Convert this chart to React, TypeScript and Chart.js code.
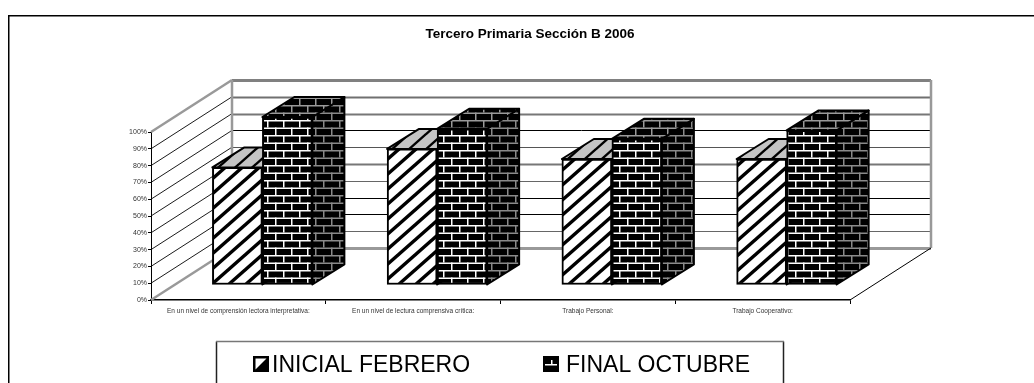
import React, { useEffect, useRef } from "react";
import { Chart, registerables } from "chart.js";

Chart.register(...registerables);

const categories = [
  "En un nivel de comprensión lectora interpretativa:",
  "En un nivel de lectura comprensiva crítica:",
  "Trabajo Personal:",
  "Trabajo Cooperativo:",
];
const inicialFebrero = [70, 81, 75, 75];
const finalOctubre = [100, 93, 87, 92];
const titleText = "Tercero Primaria Sección B 2006";
const FONT = '"Liberation Sans", Arial, sans-serif';

const WALL = { dx: 81, dy: -52 };
const BAR_SHIFT = { dx: 24, dy: -15 };
const BAR_DEPTH = { dx: 32, dy: -20 };

const wallLineStyle: Record<number, [string, number]> = {
  100: ["#808080", 3],
  90: ["#707070", 2],
  80: ["#777777", 2],
  70: ["#000000", 1],
  60: ["#555555", 1],
  50: ["#777777", 2],
  40: ["#666666", 1],
  30: ["#000000", 1],
  20: ["#000000", 1],
  10: ["#666666", 1],
  0: ["#999999", 3],
};

function tile(w: number, h: number, draw: (c: CanvasRenderingContext2D) => void) {
  const cv = document.createElement("canvas");
  cv.width = w;
  cv.height = h;
  draw(cv.getContext("2d") as CanvasRenderingContext2D);
  return cv;
}

function stripeTile(bg: string, w: number, h: number, lw: number) {
  return tile(w, h, (c) => {
    c.fillStyle = bg;
    c.fillRect(0, 0, w, h);
    c.strokeStyle = "#000";
    c.lineWidth = lw;
    c.lineCap = "square";
    for (const o of [-1, 0, 1]) {
      c.beginPath();
      c.moveTo(o * w, h);
      c.lineTo(o * w + w, 0);
      c.stroke();
    }
  });
}

function brickTile(mortar: string) {
  const w = 16;
  const h = 15;
  return tile(w, h, (c) => {
    c.fillStyle = "#000";
    c.fillRect(0, 0, w, h);
    c.fillStyle = mortar;
    c.fillRect(0, 0, w, 1.5);
    c.fillRect(0, 7.5, w, 1.5);
    c.fillRect(3, 0, 1.5, 7.5);
    c.fillRect(11, 7.5, 1.5, 7.5);
  });
}

export default function App() {
  const ref = useRef<HTMLCanvasElement | null>(null);

  useEffect(() => {
    const canvas = ref.current as HTMLCanvasElement;
    const ctx0 = canvas.getContext("2d") as CanvasRenderingContext2D;

    const stripeFront = ctx0.createPattern(stripeTile("#ffffff", 17, 15, 3.4), "repeat") as CanvasPattern;
    const stripeTop = ctx0.createPattern(stripeTile("#c4c4c4", 17, 15, 2.4), "repeat") as CanvasPattern;
    const brickFront = ctx0.createPattern(brickTile("#ffffff"), "repeat") as CanvasPattern;
    const brickSide = ctx0.createPattern(brickTile("#8a8a8a"), "repeat") as CanvasPattern;
    const brickTop = ctx0.createPattern(brickTile("#9a9a9a"), "repeat") as CanvasPattern;

    const poly = (c: CanvasRenderingContext2D, pts: number[][], fill: any) => {
      c.beginPath();
      pts.forEach((p, i) => (i ? c.lineTo(p[0], p[1]) : c.moveTo(p[0], p[1])));
      c.closePath();
      c.fillStyle = fill;
      c.fill();
      c.lineWidth = 2;
      c.strokeStyle = "#000";
      c.lineJoin = "round";
      c.stroke();
    };

    const scene = {
      id: "scene3d",
      beforeDraw(chart: any) {
        const c = chart.ctx as CanvasRenderingContext2D;
        c.save();
        c.strokeStyle = "#000";
        c.lineWidth = 1.5;
        c.beginPath();
        c.moveTo(8.75, 383);
        c.lineTo(8.75, 15.75);
        c.lineTo(1034, 15.75);
        c.stroke();
        c.restore();
        if (chart.titleBlock) {
          chart.titleBlock.left = 26;
          chart.titleBlock.right = 1034;
        }
      },
      beforeDatasetsDraw(chart: any) {
        const c = chart.ctx as CanvasRenderingContext2D;
        const { left, right, bottom, top } = chart.chartArea;
        const y = chart.scales.y;
        c.save();
        y.ticks.forEach((t: any) => {
          const py = y.getPixelForValue(t.value);
          const [col, lw] = wallLineStyle[t.value] || ["#000", 1];
          const edge = t.value === 0 || t.value === 100;
          c.strokeStyle = edge ? "#999999" : "#000000";
          c.lineWidth = edge ? 2.5 : 0.9;
          c.beginPath();
          c.moveTo(left, py);
          c.lineTo(left + WALL.dx, py + WALL.dy);
          c.stroke();
          c.strokeStyle = col;
          c.lineWidth = lw;
          c.beginPath();
          c.moveTo(left + WALL.dx, Math.round(py + WALL.dy) + 0.5);
          c.lineTo(right + WALL.dx, Math.round(py + WALL.dy) + 0.5);
          c.stroke();
        });
        c.strokeStyle = "#999999";
        c.lineWidth = 2.5;
        c.beginPath();
        c.moveTo(left + WALL.dx, top + WALL.dy);
        c.lineTo(left + WALL.dx, bottom + WALL.dy);
        c.moveTo(right + WALL.dx, top + WALL.dy);
        c.lineTo(right + WALL.dx, bottom + WALL.dy);
        c.stroke();
        c.strokeStyle = "#000";
        c.lineWidth = 1;
        c.beginPath();
        c.moveTo(right, bottom);
        c.lineTo(right + WALL.dx, bottom + WALL.dy);
        c.stroke();

        chart.data.datasets.forEach((ds: any, di: number) => {
          chart.getDatasetMeta(di).data.forEach((bar: any) => {
            const l = bar.x - bar.width / 2 + BAR_SHIFT.dx;
            const r = bar.x + bar.width / 2 + BAR_SHIFT.dx;
            const t = bar.y + BAR_SHIFT.dy;
            const b = bar.base + BAR_SHIFT.dy;
            const d = BAR_DEPTH;
            poly(c, [[r, t], [r + d.dx, t + d.dy], [r + d.dx, b + d.dy], [r, b]], ds.sideFill);
            poly(c, [[l, t], [l + d.dx, t + d.dy], [r + d.dx, t + d.dy], [r, t]], ds.topFill);
          });
        });
        c.restore();
        c.save();
        c.translate(BAR_SHIFT.dx, BAR_SHIFT.dy);
      },
      afterDatasetsDraw(chart: any) {
        chart.ctx.restore();
      },
      afterDraw(chart: any) {
        const c = chart.ctx as CanvasRenderingContext2D;
        c.save();
        c.lineWidth = 1.5;
        c.strokeStyle = "#222";
        c.beginPath();
        c.moveTo(216.5, 383);
        c.lineTo(216.5, 341.5);
        c.moveTo(783.5, 341.5);
        c.lineTo(783.5, 383);
        c.stroke();
        c.strokeStyle = "#777";
        c.beginPath();
        c.moveTo(216, 341.5);
        c.lineTo(784, 341.5);
        c.stroke();

        c.font = `23px ${FONT}`;
        c.textBaseline = "middle";
        c.textAlign = "left";
        const xs = [253, 543];
        const sw = 16;
        const sy = 356;
        chart.data.datasets.forEach((ds: any, i: number) => {
          const x = xs[i];
          c.fillStyle = i === 0 ? "#fff" : "#000";
          c.fillRect(x, sy, sw, sw);
          c.fillStyle = i === 0 ? "#000" : "#fff";
          if (i === 0) {
            c.beginPath();
            c.moveTo(x + sw, sy);
            c.lineTo(x + sw, sy + sw);
            c.lineTo(x, sy + sw);
            c.closePath();
            c.fill();
            c.strokeStyle = "#000";
            c.lineWidth = 2.5;
            c.strokeRect(x + 1.25, sy + 1.25, sw - 2.5, sw - 2.5);
          } else {
            c.fillRect(x + 2, sy + 8, sw - 4, 1.5);
            c.fillRect(x + 8, sy + 4, 1.5, 4);
          }
          c.fillStyle = "#000";
          c.fillText(ds.label, i === 0 ? 272 : 566, 366);
        });
        c.restore();
      },
    };

    const chart = new Chart(canvas, {
      type: "bar",
      data: {
        labels: categories,
        datasets: [
          {
            label: "INICIAL FEBRERO",
            data: inicialFebrero,
            backgroundColor: stripeFront,
            borderColor: "#000",
            borderWidth: 2,
            borderSkipped: false,
            barThickness: 50,
            sideFill: stripeTop,
            topFill: stripeTop,
          } as any,
          {
            label: "FINAL OCTUBRE",
            data: finalOctubre,
            backgroundColor: brickFront,
            borderColor: "#000",
            borderWidth: 2,
            borderSkipped: false,
            barThickness: 50,
            sideFill: brickSide,
            topFill: brickTop,
          } as any,
        ],
      },
      plugins: [scene as any],
      options: {
        responsive: false,
        animation: false,
        layout: { padding: { left: 0, right: 184, top: 0, bottom: 63 } },
        plugins: {
          legend: { display: false },
          tooltip: { enabled: false },
          title: {
            display: true,
            text: titleText,
            color: "#000",
            font: { family: FONT, size: 13.5, weight: "bold" },
            lineHeight: 1,
            padding: { top: 26, bottom: 89.8 },
          },
        },
        scales: {
          x: {
            afterFit: (s: any) => {
              s.height = 20;
            },
            grid: { drawOnChartArea: false, tickLength: 4, tickColor: "#000" },
            border: { color: "#000", width: 1.5 },
            ticks: {
              color: "#333",
              font: { family: FONT, size: 6.5 },
              maxRotation: 0,
              autoSkip: false,
              padding: 3,
            },
          },
          y: {
            min: 0,
            max: 100,
            afterFit: (s: any) => {
              s.width = 151;
            },
            grid: { drawOnChartArea: false, tickLength: 3, tickColor: "#000" },
            border: { color: "#000", width: 1 },
            ticks: {
              stepSize: 10,
              color: "#333",
              font: { family: FONT, size: 7 },
              padding: 1,
              callback: (v: any) => `${v}%`,
            },
          },
        },
      } as any,
    });
    return () => chart.destroy();
  }, []);

  return (
    <div style={{ position: "fixed", left: 0, top: 0, width: 1034, height: 383, background: "#fff", overflow: "hidden" }}>
      <canvas ref={ref} width={1034} height={383} style={{ display: "block" }} />
    </div>
  );
}
